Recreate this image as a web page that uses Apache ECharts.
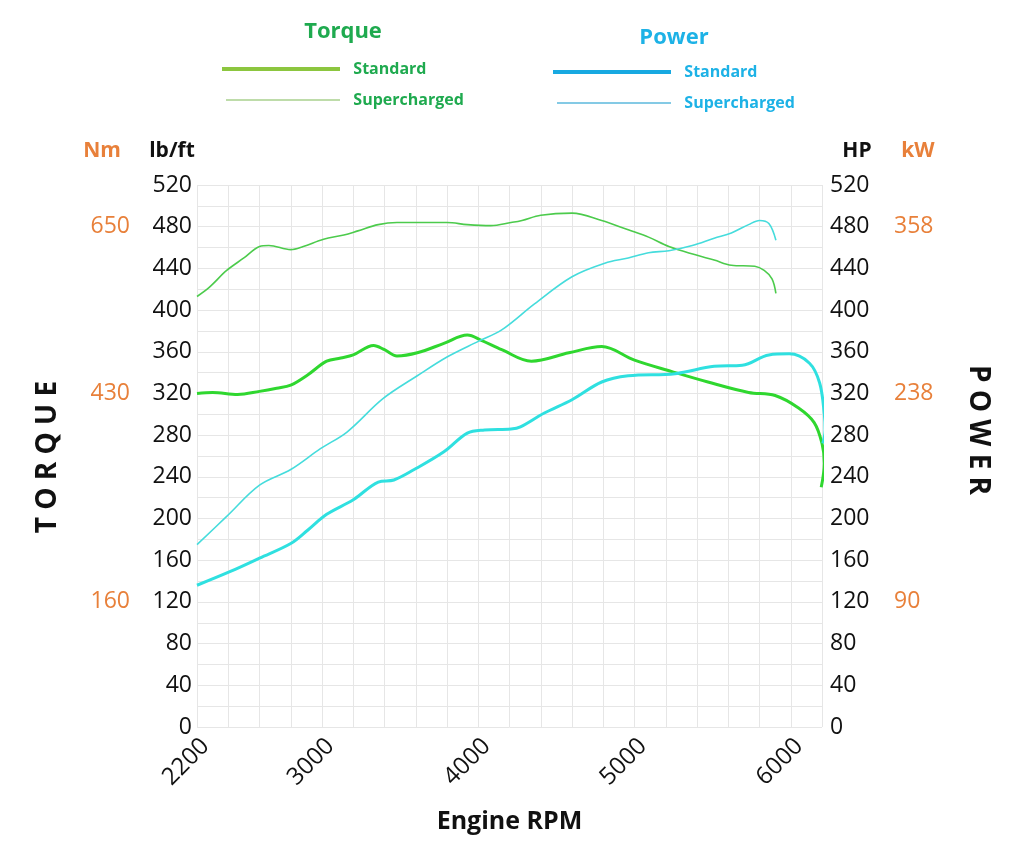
<!DOCTYPE html>
<html>
<head>
<meta charset="utf-8">
<script src="https://cdn.jsdelivr.net/npm/echarts@6/dist/echarts.min.js"></script>
<style>
html,body{margin:0;padding:0;background:#fff;}
#chart{width:1024px;height:866px;}
</style>
</head>
<body>
<div id="chart"></div>
<script>
// ---- data ----
const xTickLabels = [2200, 3000, 4000, 5000, 6000];
const nmLabels = {480: '650', 320: '430', 120: '160'};
const kwLabels = {480: '358', 320: '238', 120: '90'};

const torqueStdRpm = [2200, 2300, 2460, 2600, 2710, 2800, 2910, 3030, 3120, 3200, 3330, 3400, 3480, 3610, 3780, 3930, 4020, 4150, 4340, 4580, 4790, 5000, 5240, 5470, 5730, 5900, 6050, 6150, 6200, 6215, 6195];
const torqueStd    = [320, 321, 319, 322, 325, 328, 338, 351, 354, 357, 366, 362, 356, 359, 368, 376, 371, 362, 351, 359, 365, 352, 341, 331, 321, 318, 306, 292, 272, 253, 230];

const torqueSupRpm = [2200, 2280, 2390, 2500, 2600, 2660, 2800, 2880, 3010, 3140, 3230, 3360, 3480, 3650, 3800, 3930, 4080, 4210, 4280, 4400, 4600, 4790, 4960, 5090, 5220, 5390, 5510, 5620, 5770, 5830, 5880, 5905];
const torqueSup    = [413, 422, 438, 450, 461, 462, 458, 461, 468, 472, 476, 482, 484, 484, 484, 482, 481, 484, 486, 491, 493, 486, 477, 470, 461, 453, 448, 443, 442, 438, 430, 416];

const powerStdRpm = [2200, 2410, 2600, 2800, 2910, 3030, 3200, 3360, 3460, 3590, 3780, 3930, 4040, 4210, 4270, 4420, 4600, 4790, 4960, 5260, 5510, 5690, 5860, 5990, 6120, 6185, 6215, 6220, 6205];
const powerStd    = [136, 149, 162, 176, 189, 204, 218, 235, 237, 247, 264, 282, 285, 286, 288, 301, 314, 331, 337, 339, 346, 347, 357, 358, 349, 330, 300, 285, 272];

const powerSupRpm = [2200, 2390, 2600, 2800, 2990, 3160, 3390, 3610, 3800, 4000, 4150, 4360, 4600, 4810, 4960, 5090, 5220, 5370, 5510, 5620, 5730, 5800, 5860, 5905];
const powerSup    = [175, 202, 232, 247, 267, 283, 315, 337, 355, 370, 381, 406, 432, 445, 450, 455, 457, 462, 469, 474, 482, 486, 483, 467];

function pairs(xs, ys) { return xs.map((x, i) => [x, ys[i]]); }

const FONT = '"Open Sans", "Noto Sans", sans-serif';
const GREEN_TXT = '#1faa4f';
const BLUE_TXT = '#1db2e6';
const ORANGE = '#e8803a';
const GRID = '#e6e6e6';

const chart = echarts.init(document.getElementById('chart'), null, {renderer: 'canvas'});

function yAxisBase(extra) {
  return Object.assign({
    type: 'value', min: 0, max: 520, interval: 20,
    axisLine: {show: false}, axisTick: {show: false},
  }, extra);
}

function legendItem(name, left, top, w, h, iconColor, txtColor) {
  return {
    left: left, top: top, padding: 0,
    itemWidth: w, itemHeight: h, icon: 'rect',
    selectedMode: false,
    data: [{name: name, itemStyle: {color: iconColor, borderWidth: 0}}],
    formatter: n => '  ' + n.split(' ')[1],
    textStyle: {color: txtColor, fontFamily: FONT, fontWeight: 'bold', fontSize: 16}
  };
}

const option = {
  backgroundColor: '#fff',
  animation: false,
  grid: {left: 197, right: 202, top: 185, bottom: 139, containLabel: false},
  legend: [
    legendItem('Torque Standard', 222, 61, 118, 4, '#8cc63f', GREEN_TXT),
    legendItem('Torque Supercharged', 226, 92, 114, 1.5, '#a9d18e', GREEN_TXT),
    legendItem('Power Standard', 553, 64, 118, 4, '#17a9e1', BLUE_TXT),
    legendItem('Power Supercharged', 557, 95, 114, 1.5, '#5bb8dc', BLUE_TXT)
  ],
  xAxis: {
    type: 'value', min: 2200, max: 6200, interval: 200,
    axisLine: {show: false}, axisTick: {show: false},
    splitLine: {show: true, lineStyle: {color: GRID, width: 1}},
    axisLabel: {
      rotate: 45, margin: 7, fontSize: 24, color: '#111', fontFamily: FONT,
      verticalAlign: 'top',
      formatter: v => xTickLabels.indexOf(v) >= 0 ? String(v) : ''
    },
    name: 'Engine RPM', nameLocation: 'middle', nameGap: 82,
    nameTextStyle: {fontSize: 25, fontWeight: 'bold', color: '#111', fontFamily: FONT}
  },
  yAxis: [
    yAxisBase({
      position: 'left',
      splitLine: {show: true, lineStyle: {color: GRID, width: 1}},
      axisLabel: {margin: 5, fontSize: 23, color: '#111', fontFamily: FONT,
        formatter: v => v % 40 === 0 ? String(v) : ''}
    }),
    yAxisBase({
      position: 'left', offset: 62,
      splitLine: {show: false},
      axisLabel: {margin: 5, fontSize: 23, color: ORANGE, fontFamily: FONT,
        formatter: v => nmLabels[v] || ''}
    }),
    yAxisBase({
      position: 'right',
      splitLine: {show: false},
      axisLabel: {margin: 8, fontSize: 23, color: '#111', fontFamily: FONT,
        formatter: v => v % 40 === 0 ? String(v) : ''}
    }),
    yAxisBase({
      position: 'right', offset: 66,
      splitLine: {show: false},
      axisLabel: {margin: 6, fontSize: 23, color: ORANGE, fontFamily: FONT,
        formatter: v => kwLabels[v] || ''}
    })
  ],
  graphic: [
    {type: 'text', x: 343, y: 32, style: {text: 'Torque', fill: GREEN_TXT, font: 'bold 22px ' + FONT, align: 'center', verticalAlign: 'middle'}},
    {type: 'text', x: 674, y: 38, style: {text: 'Power', fill: BLUE_TXT, font: 'bold 22px ' + FONT, align: 'center', verticalAlign: 'middle'}},
    {type: 'text', x: 102, y: 151, style: {text: 'Nm', fill: ORANGE, font: 'bold 21px ' + FONT, align: 'center', verticalAlign: 'middle'}},
    {type: 'text', x: 172, y: 151, style: {text: 'lb/ft', fill: '#111', font: 'bold 21px ' + FONT, align: 'center', verticalAlign: 'middle'}},
    {type: 'text', x: 857, y: 151, style: {text: 'HP', fill: '#111', font: 'bold 21px ' + FONT, align: 'center', verticalAlign: 'middle'}},
    {type: 'text', x: 918, y: 151, style: {text: 'kW', fill: ORANGE, font: 'bold 21px ' + FONT, align: 'center', verticalAlign: 'middle'}},
    {type: 'text', x: 48, y: 457, rotation: Math.PI / 2, style: {text: 'T O R Q U E', fill: '#111', font: 'bold 28px ' + FONT, align: 'center', verticalAlign: 'middle'}},
    {type: 'text', x: 978, y: 430, rotation: -Math.PI / 2, style: {text: 'P O W E R', fill: '#111', font: 'bold 28px ' + FONT, align: 'center', verticalAlign: 'middle'}}
  ],
  series: [
    {name: 'Torque Standard', type: 'line', yAxisIndex: 0, smooth: 0.35, showSymbol: false, clip: false,
      lineStyle: {color: '#2fd72f', width: 3}, itemStyle: {color: '#2fd72f'},
      data: pairs(torqueStdRpm, torqueStd)},
    {name: 'Torque Supercharged', type: 'line', yAxisIndex: 0, smooth: 0.35, showSymbol: false, clip: false,
      lineStyle: {color: '#4ccb4c', width: 1.6}, itemStyle: {color: '#4ccb4c'},
      data: pairs(torqueSupRpm, torqueSup)},
    {name: 'Power Standard', type: 'line', yAxisIndex: 2, smooth: 0.35, showSymbol: false, clip: false,
      lineStyle: {color: '#2fe0e0', width: 3}, itemStyle: {color: '#2fe0e0'},
      data: pairs(powerStdRpm, powerStd)},
    {name: 'Power Supercharged', type: 'line', yAxisIndex: 2, smooth: 0.35, showSymbol: false, clip: false,
      lineStyle: {color: '#45dcdc', width: 1.6}, itemStyle: {color: '#45dcdc'},
      data: pairs(powerSupRpm, powerSup)}
  ]
};
chart.setOption(option);
</script>
</body>
</html>
